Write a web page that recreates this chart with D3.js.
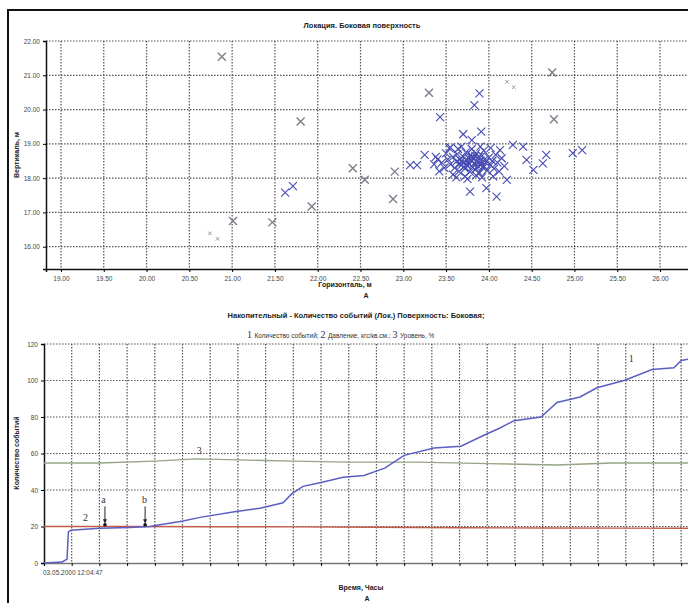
<!DOCTYPE html>
<meta charset="utf-8">
<style>
body { margin: 0; background: #fff; }
svg { font-family: "Liberation Sans", Arial, sans-serif; }
.grid line { stroke: #555; stroke-width: 1.2; stroke-dasharray: 1.5,1.5; }
.tick-label { font-size: 6.5px; fill: #444; }
.title { font-size: 7.5px; font-weight: bold; fill: #222; }
.axis-title { font-size: 7px; fill: #222; font-weight: bold; }
.note { font-size: 10px; fill: #333; font-family: "Liberation Serif", serif; }
</style>
<body>
<script src="https://cdn.jsdelivr.net/npm/d3@7"></script>
<script>
    const width = 688;
    const height = 603;

    // --- top chart: location scatter (horizontal, vertical in m)
    const xTicksTop = [19, 19.5, 20, 20.5, 21, 21.5, 22, 22.5, 23, 23.5, 24, 24.5, 25, 25.5, 26];
    const yTicksTop = [16, 17, 18, 19, 20, 21, 22];

    // earlier events (grey crosses)
    const oldX = [20.88, 21.80, 21.93, 21.01, 21.47, 22.41, 22.55, 22.90, 22.88, 23.30, 24.74, 24.76];
    const oldY = [21.54, 19.65, 17.17, 16.75, 16.71, 18.29, 17.95, 18.19, 17.39, 20.49, 21.08, 19.72];

    // small marks
    const smallX = [20.74, 20.83, 24.21, 24.29];
    const smallY = [16.39, 16.23, 20.81, 20.65];

    // recent events (blue crosses)
    const newX = [21.62, 21.71, 23.89, 23.83, 23.43, 23.70, 23.80, 23.91, 23.08, 23.16, 23.25, 24.28,
        24.67, 24.63, 24.98, 25.09, 23.78, 24.09, 23.97, 23.54, 24.13, 24.21, 24.44, 24.52, 24.40,
        23.52, 23.55, 23.58, 23.60, 23.62, 23.63, 23.65, 23.66, 23.68, 23.70, 23.70, 23.72, 23.73,
        23.74, 23.75, 23.76, 23.77, 23.78, 23.79, 23.80, 23.81, 23.82, 23.83, 23.84, 23.85, 23.86,
        23.87, 23.88, 23.89, 23.90, 23.91, 23.92, 23.93, 23.95, 23.96, 23.98, 24.00, 24.02, 24.04,
        24.06, 23.45, 23.48, 23.50, 23.40, 23.42, 23.58, 23.64, 23.72, 23.80, 23.85, 23.94, 24.08,
        24.10, 24.12, 24.15, 24.18, 23.36, 23.38, 23.55, 23.68, 23.90, 24.02, 23.62, 23.75, 23.92,
        24.05, 23.68, 23.74, 23.80, 23.86, 23.78, 23.84, 23.71, 23.88, 23.66, 23.94];
    const newY = [17.58, 17.77, 20.47, 20.13, 19.78, 19.28, 19.11, 19.36, 18.38, 18.38, 18.68, 18.97,
        18.68, 18.43, 18.73, 18.82, 17.61, 17.46, 17.71, 18.87, 18.82, 17.95, 18.53, 18.24, 18.92,
        18.55, 18.40, 18.62, 18.30, 18.48, 18.70, 18.20, 18.55, 18.38, 18.62, 18.45, 18.28, 18.75,
        18.52, 18.35, 18.60, 18.42, 18.18, 18.68, 18.50, 18.32, 18.58, 18.44, 18.25, 18.72, 18.48,
        18.36, 18.62, 18.15, 18.52, 18.40, 18.66, 18.30, 18.55, 18.45, 18.22, 18.60, 18.38, 18.50,
        18.28, 18.45, 18.30, 18.72, 18.55, 18.20, 18.10, 18.85, 18.05, 18.85, 18.08, 18.80, 18.68,
        18.45, 18.20, 18.58, 18.35, 18.40, 18.62, 18.90, 18.92, 18.92, 18.88, 18.02, 17.98, 18.02,
        18.05, 18.50, 18.40, 18.62, 18.30, 18.55, 18.65, 18.33, 18.45, 18.42, 18.36];

    // --- bottom chart: cumulative, time in hours from 03.05.2000 12:04:47
    const yTicksBottom = [0, 20, 40, 60, 80, 100, 120];
    const hourTicks = d3.range(0, 24);

    const eventsT = [0, 0.65, 0.76, 0.83, 0.88, 0.97, 2.02, 3.1, 3.83, 4.19, 5.02, 5.63, 6.82, 7.8,
        8.63, 8.95, 9.35, 9.96, 10.8, 11.55, 12.3, 13.0, 14.08, 15.05, 15.88, 16.46, 16.97, 17.94,
        18.52, 19.35, 19.96, 20.94, 21.95, 22.74, 23.0, 23.4];
    const eventsV = [0, 0.5, 1.5, 2, 17, 18, 19, 19.5, 20, 21, 23, 25, 28, 30,
        33, 38, 42, 44, 47, 48, 52, 59, 63, 64, 70, 74, 78, 80,
        88, 91, 96, 100, 106, 107, 111, 112];

    const pressureT = [0, 3, 6, 9, 12, 15, 18, 21, 23.4];
    const pressureV = [20, 20, 19.9, 19.8, 19.6, 19.3, 19.2, 19.1, 19.0];

    const levelT = [0, 2, 4, 5.5, 7, 9, 11, 13.5, 16, 18.5, 20.5, 23.4];
    const levelV = [54.8, 54.8, 55.8, 57, 56.5, 55.8, 55.3, 55.3, 54.5, 53.7, 54.8, 54.8];

    const svg = d3.select("body").append("svg")
        .attr("width", width)
        .attr("height", height);

    // outer frame
    svg.append("rect")
        .attr("x", 8).attr("y", 10)
        .attr("width", 720).attr("height", 640)
        .attr("fill", "none").attr("stroke", "#111").attr("stroke-width", 2);

    // ================= TOP =================
    const xTop = d3.scaleLinear().domain([18.825, 26.35]).range([46, 690]);
    const yTop = d3.scaleLinear().domain([15.35, 22]).range([269, 41]);

    const gridTop = svg.append("g").attr("class", "grid");
    gridTop.selectAll(".vx").data(xTicksTop).enter().append("line")
        .attr("x1", d => xTop(d)).attr("x2", d => xTop(d))
        .attr("y1", yTop(22)).attr("y2", yTop(15.35));
    gridTop.selectAll(".hy").data(yTicksTop).enter().append("line")
        .attr("x1", xTop(18.825)).attr("x2", 690)
        .attr("y1", d => yTop(d)).attr("y2", d => yTop(d));

    svg.append("g")
        .attr("transform", "translate(0,269)")
        .call(d3.axisBottom(xTop).tickValues(xTicksTop).tickFormat(d3.format(".2f")).tickSize(3))
        .call(g => g.select(".domain").attr("stroke", "#111").attr("stroke-width", 1.5))
        .call(g => g.selectAll("text").attr("class", "tick-label").attr("dy", "0.9em"));

    svg.append("g")
        .attr("transform", "translate(46,0)")
        .call(d3.axisLeft(yTop).tickValues(yTicksTop).tickFormat(d3.format(".2f")).tickSize(3))
        .call(g => g.select(".domain").attr("stroke", "#111").attr("stroke-width", 1.5))
        .call(g => g.selectAll("text").attr("class", "tick-label"));

    function cross(sel, xs, ys, size, color, width) {
        sel.selectAll(null).data(d3.range(xs.length)).enter().append("path")
            .attr("d", i => {
                const cx = xTop(xs[i]), cy = yTop(ys[i]);
                return "M" + (cx - size) + "," + (cy - size) + "L" + (cx + size) + "," + (cy + size) +
                    "M" + (cx - size) + "," + (cy + size) + "L" + (cx + size) + "," + (cy - size);
            })
            .attr("stroke", color)
            .attr("stroke-width", width)
            .attr("fill", "none");
    }

    const marks = svg.append("g");
    cross(marks, oldX, oldY, 4, "#7d7d8c", 1.4);
    cross(marks, smallX, smallY, 1.8, "#9a9aa8", 1);
    cross(marks, newX, newY, 4, "#464cb2", 1.1);

    svg.append("text").attr("class", "title")
        .attr("x", 362).attr("y", 28).attr("text-anchor", "middle")
        .text("Локация. Боковая поверхность");
    svg.append("text").attr("class", "axis-title")
        .attr("x", 345).attr("y", 287).attr("text-anchor", "middle")
        .text("Горизонталь, м");
    svg.append("text").attr("class", "axis-title")
        .attr("x", 366).attr("y", 298).attr("text-anchor", "middle")
        .text("А");
    svg.append("text").attr("class", "axis-title")
        .attr("transform", "translate(19,155) rotate(-90)")
        .attr("text-anchor", "middle")
        .text("Вертикаль, м");

    // ================= BOTTOM =================
    const xBot = d3.scaleLinear().domain([0, 23.5]).range([44, 695]);
    const yBot = d3.scaleLinear().domain([0, 120]).range([563, 344]);

    const gridBot = svg.append("g").attr("class", "grid");
    gridBot.selectAll(".vx").data(hourTicks.slice(1)).enter().append("line")
        .attr("x1", d => xBot(d)).attr("x2", d => xBot(d))
        .attr("y1", yBot(120)).attr("y2", yBot(0));
    gridBot.selectAll(".hy").data(yTicksBottom.slice(1)).enter().append("line")
        .attr("x1", xBot(0)).attr("x2", 690)
        .attr("y1", d => yBot(d)).attr("y2", d => yBot(d));

    svg.append("g")
        .attr("transform", "translate(0,563)")
        .call(d3.axisBottom(xBot).tickValues(hourTicks).tickFormat("").tickSize(3))
        .call(g => g.select(".domain").attr("stroke", "#777").attr("stroke-width", 1.5));

    svg.append("g")
        .attr("transform", "translate(44,0)")
        .call(d3.axisLeft(yBot).tickValues(yTicksBottom).tickSize(3))
        .call(g => g.select(".domain").attr("stroke", "#111").attr("stroke-width", 1.5))
        .call(g => g.selectAll("text").attr("class", "tick-label"));

    svg.append("text").attr("class", "tick-label")
        .attr("x", xBot(0) - 1).attr("y", 575)
        .text("03.05.2000 12:04:47");

    const line = d3.line().x(d => xBot(d[0])).y(d => yBot(d[1]));

    svg.append("path")
        .datum(d3.zip(levelT, levelV))
        .attr("d", line).attr("fill", "none")
        .attr("stroke", "#95a585").attr("stroke-width", 1.3);

    svg.append("path")
        .datum(d3.zip(pressureT, pressureV))
        .attr("d", line).attr("fill", "none")
        .attr("stroke", "#c25a48").attr("stroke-width", 1.4);

    svg.append("path")
        .datum(d3.zip(eventsT, eventsV))
        .attr("d", line).attr("fill", "none")
        .attr("stroke", "#5a5fc2").attr("stroke-width", 1.5);

    // annotations
    const notes = [
        { t: 21.2, v: 110, s: "1" },
        { t: 1.5, v: 23, s: "2" },
        { t: 5.6, v: 60, s: "3" },
        { t: 2.15, v: 33, s: "a" },
        { t: 3.63, v: 33, s: "b" }
    ];
    svg.selectAll(".note").data(notes).enter().append("text")
        .attr("class", "note")
        .attr("x", d => xBot(d.t)).attr("y", d => yBot(d.v))
        .attr("text-anchor", "middle")
        .text(d => d.s);

    const arrows = [2.2, 3.65];
    arrows.forEach(t => {
        svg.append("line")
            .attr("x1", xBot(t)).attr("x2", xBot(t))
            .attr("y1", yBot(31)).attr("y2", yBot(23))
            .attr("stroke", "#222").attr("stroke-width", 1);
        svg.append("path")
            .attr("d", "M" + (xBot(t) - 2) + "," + yBot(24) + "L" + (xBot(t) + 2) + "," + yBot(24) +
                "L" + xBot(t) + "," + yBot(21.5) + "Z")
            .attr("fill", "#222");
        svg.append("circle")
            .attr("cx", xBot(t)).attr("cy", yBot(21))
            .attr("r", 1.8).attr("fill", "#111");
    });

    svg.append("text").attr("class", "title")
        .attr("x", 356).attr("y", 318).attr("text-anchor", "middle")
        .text("Накопительный - Количество событий (Лок.) Поверхность: Боковая;");

    const legend = svg.append("text").attr("x", 247).attr("y", 338)
        .attr("font-size", "6.5px").attr("fill", "#333");
    legend.append("tspan").attr("font-size", "10px").attr("font-family", "Liberation Serif, serif").text("1 ");
    legend.append("tspan").text("Количество событий; ");
    legend.append("tspan").attr("font-size", "10px").attr("font-family", "Liberation Serif, serif").text("2 ");
    legend.append("tspan").text("Давление, кгс/кв.см.; ");
    legend.append("tspan").attr("font-size", "10px").attr("font-family", "Liberation Serif, serif").text("3 ");
    legend.append("tspan").text("Уровень, %");

    svg.append("text").attr("class", "axis-title")
        .attr("x", 361).attr("y", 590).attr("text-anchor", "middle")
        .text("Время, Часы");
    svg.append("text").attr("class", "axis-title")
        .attr("x", 367).attr("y", 601).attr("text-anchor", "middle")
        .text("А");
    svg.append("text").attr("class", "axis-title")
        .attr("transform", "translate(19,453) rotate(-90)")
        .attr("text-anchor", "middle")
        .text("Количество событий");
</script>
